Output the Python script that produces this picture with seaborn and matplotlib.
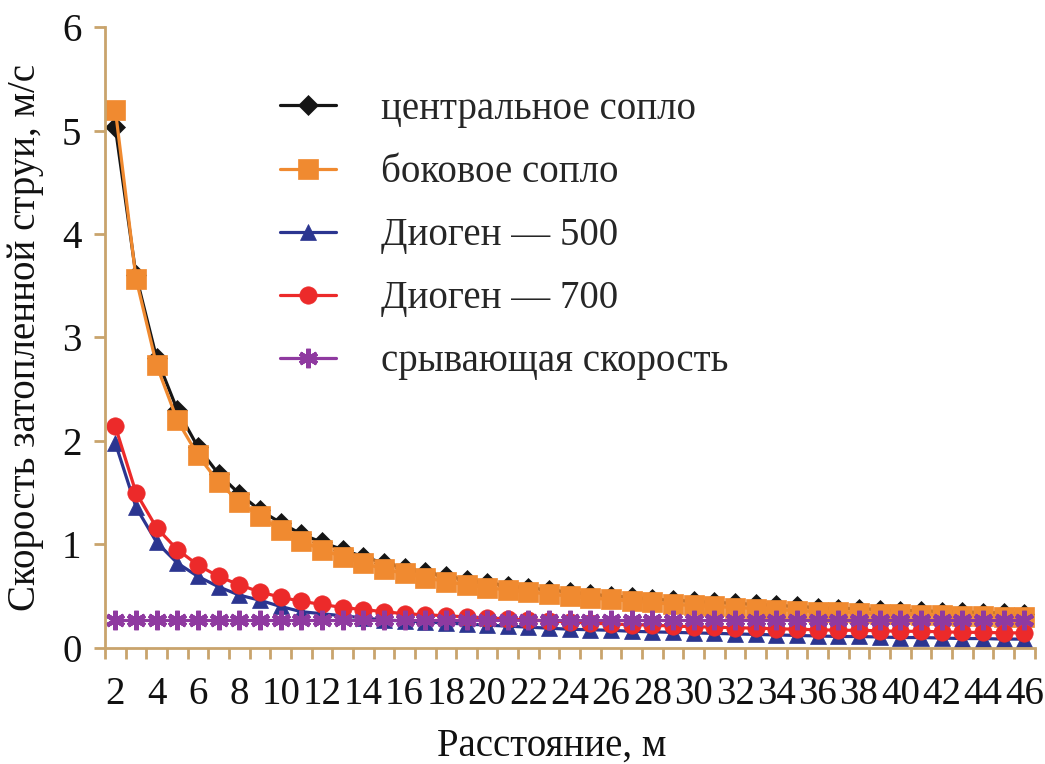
import numpy as np
import pandas as pd
import matplotlib
matplotlib.use("Agg")
import matplotlib.pyplot as plt
import seaborn as sns

# ---- data ----
distance = list(range(2, 47))

central = [5.03, 3.60, 2.80, 2.30, 1.94, 1.68, 1.49, 1.33, 1.21, 1.10,
           1.02, 0.95, 0.88, 0.82, 0.77, 0.73, 0.69, 0.66, 0.63, 0.60,
           0.58, 0.56, 0.54, 0.52, 0.50, 0.49, 0.47, 0.46, 0.45, 0.44,
           0.43, 0.42, 0.41, 0.40, 0.39, 0.38, 0.38, 0.37, 0.36, 0.36,
           0.35, 0.35, 0.34, 0.34, 0.33]

side = [5.20, 3.57, 2.73, 2.20, 1.86, 1.60, 1.41, 1.27, 1.14, 1.03,
        0.95, 0.88, 0.82, 0.76, 0.72, 0.68, 0.64, 0.61, 0.58, 0.56,
        0.54, 0.52, 0.50, 0.48, 0.47, 0.45, 0.44, 0.42, 0.41, 0.40,
        0.39, 0.38, 0.37, 0.36, 0.35, 0.35, 0.34, 0.33, 0.33, 0.32,
        0.32, 0.31, 0.31, 0.30, 0.30]

diogen500 = [1.98, 1.36, 1.02, 0.82, 0.69, 0.59, 0.51, 0.46, 0.40, 0.35,
             0.33, 0.31, 0.29, 0.27, 0.26, 0.25, 0.24, 0.23, 0.22, 0.21,
             0.20, 0.19, 0.18, 0.175, 0.17, 0.16, 0.155, 0.15, 0.145, 0.14,
             0.135, 0.13, 0.125, 0.12, 0.115, 0.11, 0.11, 0.105, 0.10, 0.10,
             0.095, 0.09, 0.09, 0.085, 0.085]

diogen700 = [2.14, 1.50, 1.16, 0.95, 0.80, 0.69, 0.61, 0.54, 0.49, 0.45,
             0.42, 0.39, 0.37, 0.35, 0.33, 0.32, 0.31, 0.30, 0.29, 0.28,
             0.27, 0.26, 0.25, 0.24, 0.23, 0.225, 0.22, 0.21, 0.205, 0.20,
             0.195, 0.19, 0.185, 0.18, 0.175, 0.17, 0.17, 0.165, 0.16, 0.16,
             0.155, 0.15, 0.15, 0.145, 0.145]

stripping = [0.27] * 45

series_names = ["центральное сопло", "боковое сопло", "Диоген — 500",
                "Диоген — 700", "срывающая скорость"]
y_ticks = [0, 1, 2, 3, 4, 5, 6]
x_tick_labels = list(range(2, 47, 2))

# ---- styling ----
sns.set_theme(style="white")
plt.rcParams["font.family"] = ["Liberation Serif", "DejaVu Serif"]

colors = ["#151515", "#f08a30", "#2b3590", "#ec2a2a", "#8f3aa0"]
markers = ["D", "s", "^", "o", (6, 2, 0)]
msizes = [10.5, 14, 12, 12.5, 14]
axis_col = "#c9a46c"
FS = 28

df = pd.DataFrame({
    "distance": distance * 5,
    "speed": central + side + diogen500 + diogen700 + stripping,
    "series": sum([[n] * len(distance) for n in series_names], []),
})

fig = plt.figure(figsize=(10.45, 7.64), dpi=100)
ax = fig.add_axes([0.1005, 0.152, 0.8895, 0.8125])

for name, c, m, ms in zip(series_names, colors, markers, msizes):
    sub = df[df["series"] == name]
    kw = dict(marker=m, markersize=ms, color=c, markerfacecolor=c,
              markeredgecolor=c, linewidth=2.3, label=name)
    if name == "срывающая скорость":
        kw["markeredgewidth"] = 3.2
    else:
        kw["markeredgewidth"] = 0.5
    sns.lineplot(data=sub, x="distance", y="speed", ax=ax, **kw)

ax.set_xlim(1.5, 46.5)
ax.set_ylim(0, 6)
ax.set_yticks(y_ticks)
ax.set_yticklabels([str(v) for v in y_ticks])
ax.set_xticks(x_tick_labels)
ax.set_xticklabels([str(v) for v in x_tick_labels])
ax.set_xticks(np.arange(1.5, 47, 1.0), minor=True)
ax.tick_params(axis="x", which="major", length=0, pad=20, labelsize=FS,
               colors="#111111")
ax.tick_params(axis="x", which="minor", length=8, width=2, color=axis_col,
               direction="out", bottom=True)
ax.tick_params(axis="y", which="major", length=8, width=2, color=axis_col,
               direction="out", labelsize=FS, labelcolor="#111111", pad=9,
               left=True)

for s in ["top", "right"]:
    ax.spines[s].set_visible(False)
for s in ["left", "bottom"]:
    ax.spines[s].set_color(axis_col)
    ax.spines[s].set_linewidth(2)

ax.set_xlabel("Расстояние, м", fontsize=FS, color="#111111")
ax.set_ylabel("Скорость затопленной струи, м/с", fontsize=FS,
              color="#111111")
ax.xaxis.set_label_coords(0.48, -0.128)
ax.yaxis.set_label_coords(-0.066, 0.5)
ax.grid(False)

leg = ax.legend(loc="upper left", bbox_to_anchor=(0.188, 0.897),
                borderaxespad=0, borderpad=0,
                frameon=False, fontsize=FS, handlelength=1.45,
                handletextpad=1.15, labelspacing=0.67)

fig.savefig("out.png", dpi=100)
